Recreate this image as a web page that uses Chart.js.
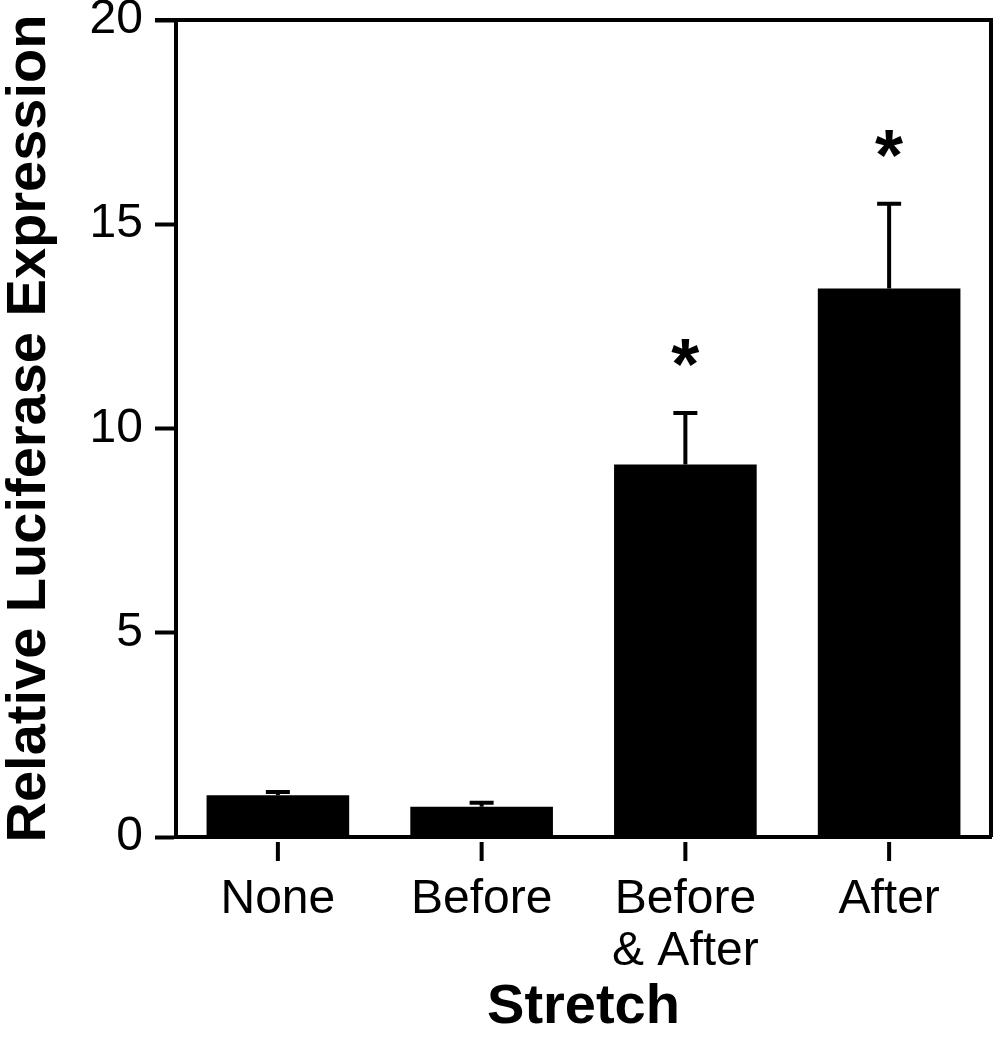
<!DOCTYPE html>
<html>
<head>
<meta charset="utf-8">
<script src="https://cdn.jsdelivr.net/npm/chart.js@4"></script>
<style>
  html, body { margin: 0; padding: 0; background: #fff; }
  #wrap { width: 996px; height: 1050px; }
</style>
</head>
<body>
<div id="wrap"><canvas id="myChart"></canvas></div>
<script>
// データ
const categories = ['None', 'Before', ['Before', '& After'], 'After'];
const means = [1.02, 0.74, 9.12, 13.43];
const errUp = [0.08, 0.1, 1.26, 2.07];
const stars = ['', '', '*', '*'];
const yTicks = [0, 5, 10, 15, 20];

const FONT = "'Liberation Sans', Arial, Helvetica, sans-serif";

// 枠線・誤差棒・アスタリスク・x目盛り
const extras = {
  id: 'extras',
  afterDatasetsDraw(chart) {
    const c = chart.ctx;
    const a = chart.chartArea;
    const x = chart.scales.x;
    const y = chart.scales.y;
    c.save();
    c.strokeStyle = '#000';
    c.fillStyle = '#000';
    // error bars (upper only)
    c.lineWidth = 4;
    means.forEach((m, i) => {
      const px = x.getPixelForValue(i);
      const top = y.getPixelForValue(m + errUp[i]);
      const base = y.getPixelForValue(m);
      c.beginPath();
      c.moveTo(px, base);
      c.lineTo(px, top);
      c.moveTo(px - 12, top);
      c.lineTo(px + 12, top);
      c.stroke();
      if (stars[i]) {
        c.font = 'bold 72px ' + FONT;
        c.textAlign = 'center';
        c.textBaseline = 'middle';
        c.fillText(stars[i], px, top - 44);
      }
    });
    // top and right frame
    c.lineWidth = 4;
    c.beginPath();
    c.moveTo(a.left - 21, a.top);
    c.lineTo(a.right, a.top);
    c.lineTo(a.right, a.bottom);
    c.stroke();
    // x tick marks with gap
    c.lineWidth = 4;
    categories.forEach((_, i) => {
      const px = x.getPixelForTick(i);
      c.beginPath();
      c.moveTo(px, a.bottom + 5);
      c.lineTo(px, a.bottom + 24);
      c.stroke();
    });
    c.restore();
  }
};

new Chart(document.getElementById('myChart'), {
  type: 'bar',
  data: {
    labels: categories,
    datasets: [{
      data: means,
      backgroundColor: '#000',
      borderWidth: 0,
      barPercentage: 0.7,
      categoryPercentage: 1.0
    }]
  },
  options: {
    responsive: true,
    maintainAspectRatio: false,
    animation: false,
    layout: { padding: { top: 20, right: 5, left: 0, bottom: 0 } },
    plugins: { legend: { display: false }, tooltip: { enabled: false } },
    scales: {
      x: {
        grid: { display: false },
        border: { display: true, color: '#000', width: 4 },
        ticks: {
          color: '#000',
          padding: 28,
          maxRotation: 0,
          autoSkip: false,
          font: { family: FONT, size: 48, lineHeight: 1.1 }
        },
        title: {
          display: true,
          text: 'Stretch',
          color: '#000',
          font: { family: FONT, size: 56, weight: 'bold', lineHeight: 1 },
          padding: { top: 0, bottom: 14 }
        },
        afterFit(scale) { scale.height = 213; scale.paddingLeft = 0; scale.paddingRight = 0; }
      },
      y: {
        min: 0,
        max: 20,
        afterBuildTicks(scale) { scale.ticks = yTicks.map(v => ({ value: v })); },
        grid: {
          drawOnChartArea: false,
          drawTicks: true,
          tickLength: 21,
          tickWidth: 4,
          tickColor: '#000'
        },
        border: { display: true, color: '#000', width: 4 },
        ticks: {
          color: '#000',
          padding: 12,
          font: { family: FONT, size: 48 }
        },
        title: {
          display: true,
          text: 'Relative Luciferase Expression',
          color: '#000',
          font: { family: FONT, size: 56, weight: 'bold', lineHeight: 1 },
          padding: { top: 2, bottom: 0 }
        },
        afterFit(scale) { scale.width = 176; scale.paddingTop = 0; scale.paddingBottom = 0; }
      }
    }
  },
  plugins: [extras]
});
</script>
</body>
</html>
